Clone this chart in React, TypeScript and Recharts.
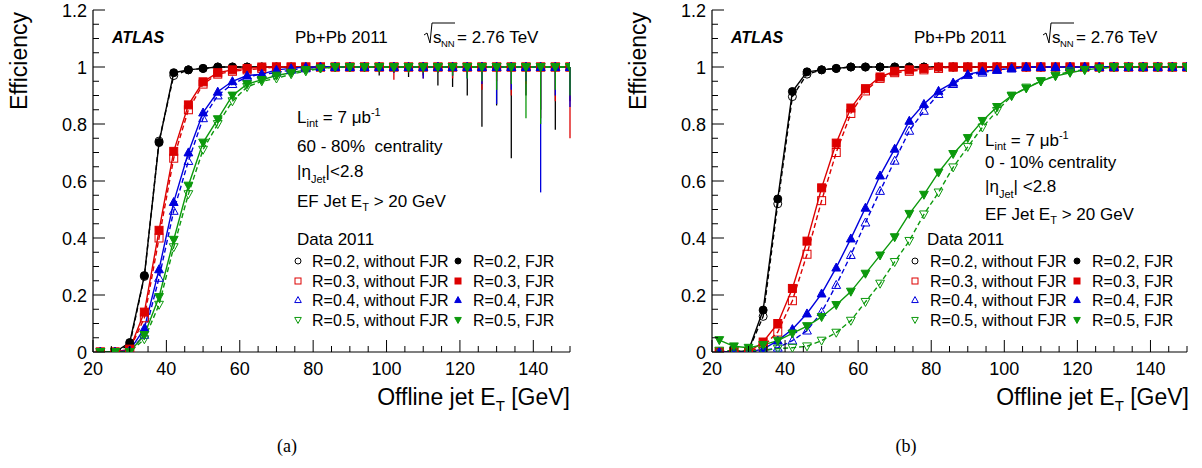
import React from "react";
import { LineChart, Line, XAxis, YAxis, ErrorBar } from "recharts";

// offline jet ET bin centres [GeV]
const ET_BINS = [
  22, 26, 30, 34, 38, 42, 46, 50, 54, 58, 62,
  66, 70, 74, 78, 82, 86, 90, 94, 98, 102, 106,
  110, 114, 118, 122, 126, 130, 134, 138, 142, 146, 150,
];

// (a) 60 - 80% centrality
const PERI_R02_NOFJR = [
  0, 0, 0.025, 0.265, 0.74, 0.97, 0.99, 0.995, 1, 1, 1,
  1, 1, 1, 1, 1, 1, 1, 1, 1, 1, 1,
  1, 1, 1, 1, 1, 1, 1, 1, 1, 1, 1,
];
const PERI_R02_FJR = [
  0, 0, 0.033, 0.268, 0.735, 0.98, 0.99, 0.995, 1, 1, 1,
  1, 1, 1, 1, 1, 1, 1, 1, 1, 1, 1,
  1, 1, 1, 1, 1, 1, 1, 1, 1, 1, 1,
];
const PERI_R03_NOFJR = [
  0, 0, 0.008, 0.12, 0.4, 0.68, 0.85, 0.94, 0.975, 0.985, 0.99,
  0.995, 1, 1, 1, 1, 1, 1, 1, 1, 1, 1,
  1, 1, 1, 1, 1, 1, 1, 1, 1, 1, 1,
];
const PERI_R03_FJR = [
  0, 0, 0.01, 0.14, 0.427, 0.704, 0.867, 0.948, 0.98, 0.99, 0.995,
  1, 1, 1, 1, 1, 1, 1, 1, 1, 1, 1,
  1, 1, 1, 1, 1, 1, 1, 1, 1, 1, 1,
];
const PERI_R04_NOFJR = [
  0, 0, 0.003, 0.06, 0.26, 0.495, 0.67, 0.82, 0.9, 0.94, 0.965,
  0.975, 0.98, 0.99, 0.995, 1, 1, 1, 1, 1, 1, 1,
  1, 1, 1, 1, 1, 1, 1, 1, 1, 1, 1,
];
const PERI_R04_FJR = [
  0, 0, 0.005, 0.083, 0.29, 0.526, 0.7, 0.84, 0.913, 0.95, 0.97,
  0.975, 0.99, 0.995, 1, 1, 1, 1, 1, 1, 1, 1,
  1, 1, 1, 1, 1, 1, 1, 1, 1, 1, 1,
];
const PERI_R05_NOFJR = [
  0, 0, 0, 0.045, 0.166, 0.368, 0.554, 0.71, 0.8, 0.88, 0.93,
  0.95, 0.96, 0.975, 0.985, 0.995, 1, 1, 1, 1, 1, 1,
  1, 1, 1, 1, 1, 1, 1, 1, 1, 1, 1,
];
const PERI_R05_FJR = [
  0, 0, 0, 0.06, 0.193, 0.394, 0.584, 0.735, 0.817, 0.9, 0.94,
  0.955, 0.97, 0.98, 0.99, 0.995, 1, 1, 1, 1, 1, 1,
  1, 1, 1, 1, 1, 1, 1, 1, 1, 1, 1,
];

// lower stat. errors in the (a) plateau
const PERI_R02_ERR = [
  0, 0, 0, 0, 0, 0, 0, 0, 0, 0, 0,
  0, 0, 0, 0, 0, 0, 0, 0, 0.03, 0.02, 0.035,
  0.03, 0.065, 0.07, 0.1, 0.21, 0.135, 0.32, 0.1, 0.15, 0.22, 0.12,
];
const PERI_R03_ERR = [
  0, 0, 0, 0, 0, 0, 0, 0, 0, 0, 0,
  0, 0, 0, 0, 0, 0, 0, 0, 0.01, 0.045, 0.01,
  0.04, 0.02, 0.04, 0.03, 0.08, 0.05, 0.1, 0.06, 0.18, 0.12, 0.25,
];
const PERI_R04_ERR = [
  0, 0, 0, 0, 0, 0, 0, 0, 0, 0, 0,
  0, 0, 0, 0, 0, 0, 0, 0, 0.01, 0.02, 0.01,
  0.04, 0.02, 0.03, 0.04, 0.06, 0.13, 0.08, 0.05, 0.44, 0.1, 0.14,
];
const PERI_R05_ERR = [
  0, 0, 0, 0, 0, 0, 0, 0, 0, 0, 0,
  0, 0, 0, 0, 0, 0, 0, 0, 0.01, 0.01, 0.02,
  0.02, 0.02, 0.03, 0.04, 0.05, 0.08, 0.06, 0.18, 0.2, 0.08, 0.1,
];

// (b) 0 - 10% centrality
const CENT_R02_NOFJR = [
  0, 0, 0.005, 0.125, 0.52, 0.896, 0.975, 0.99, 0.995, 1, 1,
  1, 1, 1, 1, 1, 1, 1, 1, 1, 1, 1,
  1, 1, 1, 1, 1, 1, 1, 1, 1, 1, 1,
];
const CENT_R02_FJR = [
  0, 0, 0.005, 0.147, 0.537, 0.914, 0.983, 0.99, 0.995, 1, 1,
  1, 1, 1, 1, 1, 1, 1, 1, 1, 1, 1,
  1, 1, 1, 1, 1, 1, 1, 1, 1, 1, 1,
];
const CENT_R03_NOFJR = [
  0, 0, 0, 0.02, 0.07, 0.18, 0.343, 0.531, 0.7, 0.837, 0.916,
  0.96, 0.98, 0.985, 0.99, 0.995, 1, 1, 1, 1, 1, 1,
  1, 1, 1, 1, 1, 1, 1, 1, 1, 1, 1,
];
const CENT_R03_FJR = [
  0, 0, 0, 0.035, 0.1, 0.223, 0.389, 0.576, 0.733, 0.856, 0.924,
  0.965, 0.985, 0.99, 0.995, 1, 1, 1, 1, 1, 1, 1,
  1, 1, 1, 1, 1, 1, 1, 1, 1, 1, 1,
];
const CENT_R04_NOFJR = [
  0, 0, 0, 0.005, 0.015, 0.04, 0.075, 0.14, 0.235, 0.34, 0.454,
  0.565, 0.671, 0.776, 0.846, 0.905, 0.94, 0.972, 0.98, 0.99, 0.995, 1,
  1, 1, 1, 1, 1, 1, 1, 1, 1, 1, 1,
];
const CENT_R04_FJR = [
  0, 0, 0, 0.01, 0.04, 0.08, 0.135, 0.205, 0.296, 0.398, 0.506,
  0.619, 0.713, 0.811, 0.87, 0.916, 0.945, 0.974, 0.985, 0.99, 0.995, 1,
  1, 1, 1, 1, 1, 1, 1, 1, 1, 1, 1,
];
const CENT_R05_NOFJR = [
  0.005, 0.005, 0.005, 0.005, 0.012, 0.015, 0.02, 0.04, 0.068, 0.11, 0.176,
  0.24, 0.316, 0.39, 0.483, 0.56, 0.648, 0.72, 0.788, 0.846, 0.898, 0.928,
  0.95, 0.97, 0.985, 0.99, 0.995, 1, 1, 1, 1, 1, 1,
];
const CENT_R05_FJR = [
  0.042, 0.02, 0.015, 0.025, 0.04, 0.065, 0.091, 0.123, 0.165, 0.212, 0.275,
  0.339, 0.403, 0.485, 0.552, 0.63, 0.695, 0.751, 0.811, 0.86, 0.9, 0.925,
  0.95, 0.968, 0.98, 0.99, 0.995, 1, 1, 1, 1, 1, 1,
];

const X_TICKS = Array.from({ length: 27 }, (_, i) => 20 + 5 * i);
const Y_TICKS = Array.from({ length: 25 }, (_, i) => (i * 5) / 100);

const FONT = "'Liberation Sans', Arial, Helvetica, sans-serif";
const BLACK = "#000000";
const RED = "#dd0000";
const BLUE = "#0000dd";
const GREEN = "#0c990c";

type Shape = "circle" | "square" | "up" | "down";
type SeriesDef = { key: string; color: string; shape: Shape; filled: boolean; err?: string };

// draw order: black, red, blue, green (green ends up on top, like the original)
const SERIES: SeriesDef[] = [
  { key: "r02o", color: BLACK, shape: "circle", filled: false },
  { key: "r02f", color: BLACK, shape: "circle", filled: true, err: "r02e" },
  { key: "r03o", color: RED, shape: "square", filled: false },
  { key: "r03f", color: RED, shape: "square", filled: true, err: "r03e" },
  { key: "r04o", color: BLUE, shape: "up", filled: false },
  { key: "r04f", color: BLUE, shape: "up", filled: true, err: "r04e" },
  { key: "r05o", color: GREEN, shape: "down", filled: false },
  { key: "r05f", color: GREEN, shape: "down", filled: true, err: "r05e" },
];

function buildRows(vals: Record<string, number[]>, errs?: Record<string, number[]>) {
  return ET_BINS.map((x, i) => {
    const row: Record<string, number | number[]> = { x };
    for (const k of Object.keys(vals)) row[k] = vals[k][i];
    if (errs) for (const k of Object.keys(errs)) row[k] = [errs[k][i], 0];
    return row;
  });
}

const periRows = buildRows(
  {
    r02o: PERI_R02_NOFJR, r02f: PERI_R02_FJR,
    r03o: PERI_R03_NOFJR, r03f: PERI_R03_FJR,
    r04o: PERI_R04_NOFJR, r04f: PERI_R04_FJR,
    r05o: PERI_R05_NOFJR, r05f: PERI_R05_FJR,
  },
  { r02e: PERI_R02_ERR, r03e: PERI_R03_ERR, r04e: PERI_R04_ERR, r05e: PERI_R05_ERR }
);

const centRows = buildRows({
  r02o: CENT_R02_NOFJR, r02f: CENT_R02_FJR,
  r03o: CENT_R03_NOFJR, r03f: CENT_R03_FJR,
  r04o: CENT_R04_NOFJR, r04f: CENT_R04_FJR,
  r05o: CENT_R05_NOFJR, r05f: CENT_R05_FJR,
});

function Marker({ cx, cy, shape, color, filled, size }: {
  cx: number; cy: number; shape: Shape; color: string; filled: boolean; size: number;
}) {
  const fill = filled ? color : "none";
  const h = size / 2;
  if (shape === "circle")
    return <circle cx={cx} cy={cy} r={h} fill={fill} stroke={color} strokeWidth={1} />;
  if (shape === "square")
    return <rect x={cx - h} y={cy - h} width={size} height={size} fill={fill} stroke={color} strokeWidth={1} />;
  const s = shape === "up" ? 1 : -1;
  const pts = `${cx},${cy - s * h * 1.15} ${cx - h * 1.1},${cy + s * h * 0.85} ${cx + h * 1.1},${cy + s * h * 0.85}`;
  return <polygon points={pts} fill={fill} stroke={color} strokeWidth={1} />;
}

const dotFor = (s: SeriesDef) => (p: any) => (
  <Marker key={`${s.key}-${p.index}`} cx={p.cx} cy={p.cy} shape={s.shape} color={s.color} filled={s.filled} size={8} />
);

// ROOT-style ticks: drawn inside the frame, labels only on the majors
const BottomTick = ({ x, y, payload }: any) => {
  const v = payload.value;
  const major = v % 20 === 0;
  return (
    <g>
      <line x1={x} x2={x} y1={y} y2={y - (major ? 12 : 6)} stroke="#000" />
      {major && (
        <text x={x} y={y + 23} textAnchor="middle" fontSize={18} fontFamily={FONT} fill="#000">
          {v}
        </text>
      )}
    </g>
  );
};
const TopTick = ({ x, y, payload }: any) => {
  const major = payload.value % 20 === 0;
  return <line x1={x} x2={x} y1={y} y2={y + (major ? 12 : 6)} stroke="#000" />;
};
const isMajorY = (v: number) => Math.abs(v / 0.2 - Math.round(v / 0.2)) < 1e-6;
const LeftTick = ({ x, y, payload }: any) => {
  const v = payload.value;
  const major = isMajorY(v);
  return (
    <g>
      <line x1={x} x2={x + (major ? 12 : 6)} y1={y} y2={y} stroke="#000" />
      {major && (
        <text x={x - 6} y={y + 6.5} textAnchor="end" fontSize={18} fontFamily={FONT} fill="#000">
          {v === 0 ? "0" : v === 1 ? "1" : v.toFixed(1)}
        </text>
      )}
    </g>
  );
};
const RightTick = ({ x, y, payload }: any) => {
  const major = isMajorY(payload.value);
  return <line x1={x} x2={x - (major ? 12 : 6)} y1={y} y2={y} stroke="#000" />;
};

function Panel({ rows, right }: { rows: Record<string, number | number[]>[]; right: number }) {
  return (
    <LineChart width={600} height={420} data={rows} margin={{ top: 10, right, left: 33, bottom: 0 }}>
      <XAxis
        dataKey="x" type="number" domain={[20, 150]} ticks={X_TICKS} interval={0}
        allowDataOverflow height={68} tickSize={0} tickMargin={0}
        axisLine={{ stroke: "#000", strokeWidth: 1.2 }} tickLine={false} tick={BottomTick}
      />
      <XAxis
        xAxisId="top" orientation="top" type="number" domain={[20, 150]} ticks={X_TICKS} interval={0}
        allowDataOverflow height={0} tickSize={0} tickMargin={0}
        axisLine={{ stroke: "#000", strokeWidth: 1.2 }} tickLine={false} tick={TopTick}
      />
      <YAxis
        type="number" domain={[0, 1.2]} ticks={Y_TICKS} interval={0} allowDataOverflow
        width={60} tickSize={0} tickMargin={0}
        axisLine={{ stroke: "#000", strokeWidth: 1.2 }} tickLine={false} tick={LeftTick}
      />
      <YAxis
        yAxisId="right" orientation="right" type="number" domain={[0, 1.2]} ticks={Y_TICKS} interval={0}
        allowDataOverflow width={0} tickSize={0} tickMargin={0}
        axisLine={{ stroke: "#000", strokeWidth: 1.2 }} tickLine={false} tick={RightTick}
      />
      {SERIES.map((s) => (
        <Line
          key={s.key}
          dataKey={s.key}
          type="linear"
          stroke={s.color}
          strokeWidth={1.4}
          strokeDasharray={s.filled ? undefined : "5 3"}
          dot={dotFor(s)}
          activeDot={false}
          isAnimationActive={false}
        >
          {s.err && rows[0][s.err] !== undefined && (
            <ErrorBar dataKey={s.err} direction="y" width={0} stroke={s.color} strokeWidth={1.3} isAnimationActive={false} />
          )}
        </Line>
      ))}
    </LineChart>
  );
}

const LEGEND_ROWS: { r: string; color: string; open: Shape }[] = [
  { r: "0.2", color: BLACK, open: "circle" },
  { r: "0.3", color: RED, open: "square" },
  { r: "0.4", color: BLUE, open: "up" },
  { r: "0.5", color: GREEN, open: "down" },
];
const LEGEND_BASE = [267, 287, 306, 326];

function PanelText(props: {
  ox: number; infoX: number; infoY: number[]; centrality: string; eta: string;
  dataX: number; openX: number; openTextX: number; fillX: number; fillTextX: number; caption: string;
}) {
  const { ox, infoX, infoY, centrality, eta, dataX, openX, openTextX, fillX, fillTextX, caption } = props;
  const t = { fontFamily: FONT, fill: "#000" };
  return (
    <g>
      <text x={ox + 112} y={43} fontSize={16} fontWeight="bold" fontStyle="italic" {...t}>ATLAS</text>
      <text x={ox + 295} y={43} fontSize={17} {...t}>Pb+Pb 2011</text>
      <path d={`M${ox + 424},35 L${ox + 427},33 L${ox + 430},43 L${ox + 432},23 L${ox + 455},23`} fill="none" stroke="#000" strokeWidth={1} />
      <text x={ox + 433} y={43} fontSize={17} {...t}>s</text>
      <text x={ox + 441} y={47} fontSize={9.5} {...t}>NN</text>
      <text x={ox + 457} y={43} fontSize={17} {...t}>= 2.76 TeV</text>

      <text x={infoX} y={infoY[0]} fontSize={17} {...t}>
        L<tspan fontSize={11} dy={4}>int</tspan>
        <tspan dy={-4}> = 7 μb</tspan>
        <tspan fontSize={11} dy={-7}>-1</tspan>
      </text>
      <text x={infoX} y={infoY[1]} fontSize={17} {...t} style={{ whiteSpace: "pre" }}>{centrality}</text>
      <text x={infoX} y={infoY[2]} fontSize={17} {...t}>
        |η<tspan fontSize={11} dy={6}>Jet</tspan>
        <tspan dy={-6}>{eta}</tspan>
      </text>
      <text x={infoX} y={infoY[3]} fontSize={17} {...t}>
        EF Jet E<tspan fontSize={11} dy={4}>T</tspan>
        <tspan dy={-4}> &gt; 20 GeV</tspan>
      </text>
      <text x={dataX} y={245} fontSize={17} {...t}>Data 2011</text>

      {LEGEND_ROWS.map((l, i) => (
        <g key={l.r}>
          <Marker cx={openX} cy={LEGEND_BASE[i] - 6} shape={l.open} color={l.color} filled={false} size={6} />
          <text x={openTextX} y={LEGEND_BASE[i]} fontSize={16} {...t}>R={l.r}, without FJR</text>
          <Marker cx={fillX} cy={LEGEND_BASE[i] - 6} shape={l.open} color={l.color} filled size={6} />
          <text x={fillTextX} y={LEGEND_BASE[i]} fontSize={16} {...t}>R={l.r}, FJR</text>
        </g>
      ))}

      <text transform={`translate(${ox + 27},12) rotate(-90)`} textAnchor="end" fontSize={23} {...t}>Efficiency</text>
      <text x={ox + 570} y={405} textAnchor="end" fontSize={23} {...t}>
        Offline jet E<tspan fontSize={15} dy={6}>T</tspan>
        <tspan dy={-6}> [GeV]</tspan>
      </text>
      <text x={ox + 287} y={452} textAnchor="middle" fontSize={18} fontFamily="'Liberation Serif', 'Times New Roman', serif" fill="#000">
        {caption}
      </text>
    </g>
  );
}

export default function App() {
  return (
    <div style={{ position: "absolute", left: 0, top: 0, width: 1202, height: 468, background: "#fff" }}>
      <div style={{ position: "absolute", left: 0, top: 0 }}>
        <Panel rows={periRows} right={30} />
      </div>
      <div style={{ position: "absolute", left: 619, top: 0 }}>
        <Panel rows={centRows} right={32} />
      </div>
      <svg width={1202} height={468} style={{ position: "absolute", left: 0, top: 0, pointerEvents: "none" }}>
        <PanelText
          ox={0} infoX={297} infoY={[123, 152, 177, 207]} centrality="60 - 80%  centrality" eta="|<2.8"
          dataX={297} openX={298} openTextX={312} fillX={458} fillTextX={473} caption="(a)"
        />
        <PanelText
          ox={619} infoX={985} infoY={[146, 168, 192, 220]} centrality="0 - 10% centrality" eta="| <2.8"
          dataX={927} openX={915} openTextX={930} fillX={1077} fillTextX={1092} caption="(b)"
        />
      </svg>
    </div>
  );
}
